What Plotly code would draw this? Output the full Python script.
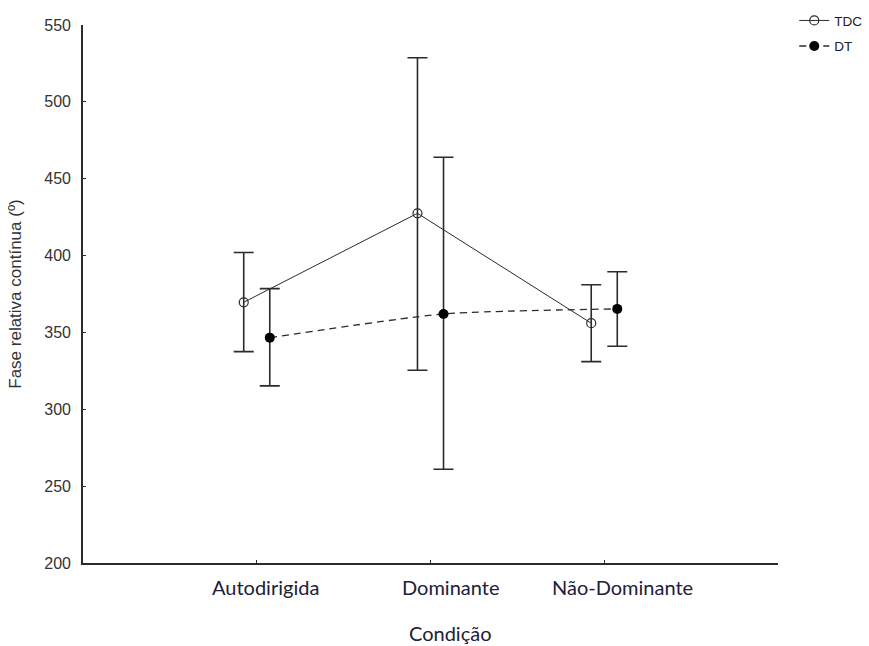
import plotly.graph_objects as go

# Conditions (x categories) and group means with asymmetric error limits
categories = ["Autodirigida", "Dominante", "Não-Dominante"]
tdc_mean = [369.6, 427.5, 356.0]
tdc_upper = [402.0, 528.7, 381.0]
tdc_lower = [337.5, 325.4, 331.0]
dt_mean = [346.6, 362.0, 365.3]
dt_upper = [378.5, 464.0, 389.5]
dt_lower = [315.2, 261.0, 341.0]

y_ticks = [200, 250, 300, 350, 400, 450, 500, 550]

pos = [1, 2, 3]
dodge = 0.075
label_shift = [0.052, 0.115, 0.103]

ink = "#2b2b2b"
label_font = dict(family="Lato", size=20, color="#20203a")


def err(mean, hi, lo):
    return dict(
        type="data", symmetric=False,
        array=[h - m for h, m in zip(hi, mean)],
        arrayminus=[m - l for m, l in zip(mean, lo)],
        color=ink, thickness=1.6, width=10,
    )


fig = go.Figure()
fig.add_trace(go.Scatter(
    x=[p - dodge for p in pos], y=tdc_mean, name="TDC", legendgroup="tdc",
    mode="lines+markers",
    line=dict(color=ink, width=1),
    marker=dict(symbol="circle-open", size=9, color=ink, line=dict(width=1.2)),
    error_y=err(tdc_mean, tdc_upper, tdc_lower),
))
fig.add_trace(go.Scatter(
    x=[p + dodge for p in pos], y=dt_mean, name="DT", legendgroup="dt",
    mode="lines+markers",
    line=dict(color=ink, width=1.3, dash="7px,5px", shape="spline", smoothing=0.6),
    marker=dict(symbol="circle", size=10, color="#000000"),
    error_y=err(dt_mean, dt_upper, dt_lower),
))

# Category labels under the axis
for p, name, s in zip(pos, categories, label_shift):
    fig.add_annotation(
        x=p + s, y=-0.045, xref="x", yref="paper", text=name, showarrow=False,
        font=label_font, yanchor="middle",
    )
fig.add_annotation(
    x=2.115, y=-0.131, xref="x", yref="paper", text="Condição", showarrow=False,
    font=label_font, yanchor="middle",
)

fig.update_layout(
    width=869, height=646,
    margin=dict(l=83, r=91, t=25, b=83, autoexpand=False),
    paper_bgcolor="white", plot_bgcolor="white",
    font=dict(family="Liberation Sans", size=13, color="#333333"),
    showlegend=True,
    legend=dict(
        xref="container", yref="container",
        x=0.914, y=0.992, xanchor="left", yanchor="top",
        font=dict(family="Liberation Sans", size=13.5, color="#222222"),
        bgcolor="rgba(0,0,0,0)", itemwidth=30, tracegroupgap=5,
        traceorder="grouped",
    ),
    xaxis=dict(
        range=[0, 4], tickvals=pos, ticktext=["", "", ""],
        showline=True, linecolor=ink, linewidth=1.6,
        ticks="inside", ticklen=3, tickcolor=ink, automargin=False,
        showgrid=False, zeroline=False, fixedrange=True,
    ),
    yaxis=dict(
        range=[200, 550], tickvals=y_ticks,
        showline=True, linecolor=ink, linewidth=1.6,
        ticks="inside", ticklen=3, tickcolor=ink, automargin=False,
        showgrid=False, zeroline=False, ticklabelstandoff=7,
        tickfont=dict(family="Liberation Sans", size=16, color="#333333"),
        title=dict(text="Fase relativa contínua (º)", standoff=18,
                   font=dict(family="Liberation Sans", size=17, color="#333333")),
    ),
)

fig.write_html("out.html")
